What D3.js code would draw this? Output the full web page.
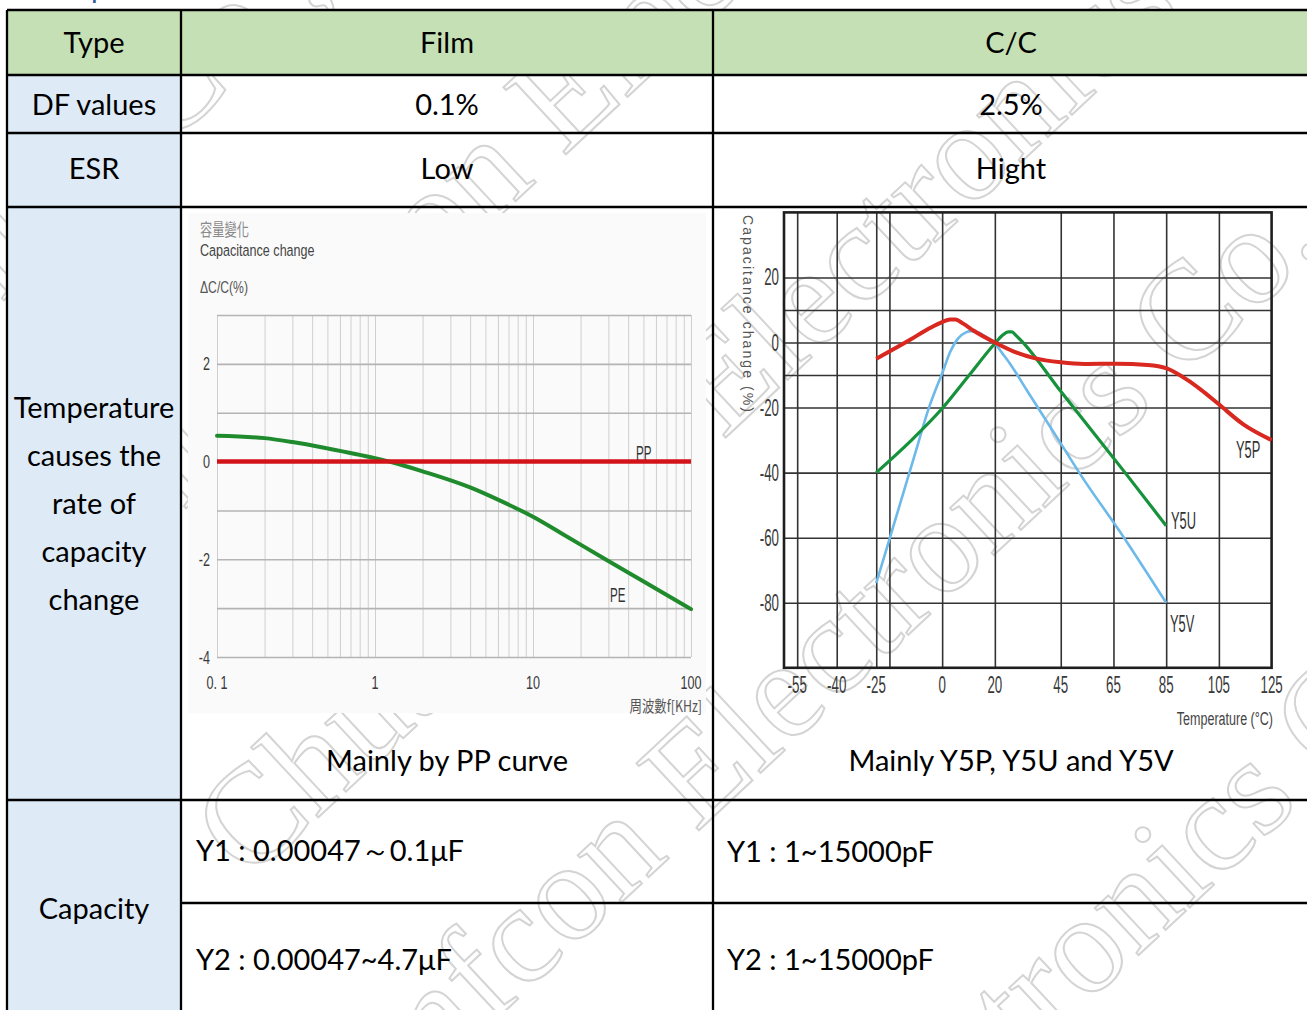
<!DOCTYPE html>
<html>
<head>
<meta charset="utf-8">
<script src="https://cdn.jsdelivr.net/npm/d3@7"></script>
<style>
  html, body { margin: 0; padding: 0; background: #fff; }
  svg { display: block; }
</style>
</head>
<body>
<svg id="page" width="1307" height="1010"></svg>
<script>
// ---------- table text ----------
const headerCells   = ["Type", "Film", "C/C"];
const dfValues      = ["DF values", "0.1%", "2.5%"];
const esrValues     = ["ESR", "Low", "Hight"];
const tempRowLabel  = ["Temperature", "causes the", "rate of", "capacity", "change"];
const chartCaptions = ["Mainly by PP curve", "Mainly Y5P, Y5U and Y5V"];
const capacityLabel = "Capacity";
const filmCapacity  = ["Y1 : 0.00047～0.1μF", "Y2 : 0.00047~4.7μF"];
const ccCapacity    = ["Y1 : 1~15000pF", "Y2 : 1~15000pF"];
const headingText   = "Comparison";
const watermarkText = "Chuanfcon Electronics Co., Ltd.";

// ---------- film capacitor: capacitance change vs frequency ----------
const filmFreqTicks  = [0.1, 1, 10, 100];
const filmFreqLabels = ["0. 1", "1", "10", "100"];
const filmChangeTicks = [2, 0, -2, -4];
const ppFreq   = [0.1, 100];
const ppChange = [0, 0];
const peFreq   = [0.1, 0.2, 0.3, 0.5, 1, 1.3, 2, 4, 6, 10, 15, 28, 48, 100];
const peChange = [0.53, 0.48, 0.40, 0.27, 0.07, -0.02, -0.20, -0.53, -0.78, -1.13, -1.46, -1.98, -2.42, -3.02];

// ---------- ceramic capacitor: capacitance change vs temperature ----------
const tempTicks = [-55, -40, -25, 0, 20, 45, 65, 85, 105, 125];
const tempGrid  = [-55, -40, -25, -20, 0, 20, 45, 65, 85, 105];
const capTicks  = [20, 0, -20, -40, -60, -80];
const capGrid   = [20, 10, 0, -10, -20, -40, -60, -80];

const y5pTemp = [-25, -12, -5, 0, 3, 5, 8, 12, 20, 27, 35, 45, 54, 66, 78, 85, 93, 98, 105, 114, 125];
const y5pCap  = [-5, 0.9, 4.3, 6.3, 7.1, 7.1, 5.8, 3.6, 0, -2.7, -4.8, -6.1, -6.6, -6.5, -6.9, -7.9, -11.5, -14.4, -19, -25, -30];
const y5uTemp = [-25, -12, 0, 10, 20, 23, 25, 26.5, 28, 30, 45, 69.4, 85];
const y5uCap  = [-40, -30.3, -20.3, -10.3, -0.3, 2.3, 3.3, 3.3, 2.2, 0.6, -15, -40, -56.3];
const y5vTemp = [-25, -20, -15, -10, -5, -2, 0, 3, 6, 9, 11, 14, 17, 20, 23, 26, 32, 45, 52, 69, 85];
const y5vCap  = [-74, -60.5, -47, -33.5, -20, -13.5, -9.5, -3, 1.2, 3.1, 3.5, 3.0, 1.5, -0.3, -3.5, -6.8, -14.5, -31, -40, -60, -80];
const ccSeries = [
  { name: "Y5V", temp: y5vTemp, cap: y5vCap, color: "#6cb9ea", width: 2.6 },
  { name: "Y5U", temp: y5uTemp, cap: y5uCap, color: "#16913c", width: 3.2 },
  { name: "Y5P", temp: y5pTemp, cap: y5pCap, color: "#d8281f", width: 4 }
];

// ---------- layout ----------
const colX = [7, 181, 713, 1310];
const rowY = [10, 75, 133, 207, 800, 903, 1016];
const bodyFont = "Lato, 'Open Sans', sans-serif";
const narrowFont = "'Liberation Sans', Arial, sans-serif";

const svg = d3.select("#page");
svg.append("rect").attr("width", 1307).attr("height", 1010).attr("fill", "#fff");

// helper: condensed label (horizontally squeezed sans text)
function narrowText(parent, x, y, str, o) {
  const g = parent.append("g")
    .attr("transform", `translate(${x},${y}) scale(${o.sx || 0.7},1)`);
  return g.append("text")
    .attr("text-anchor", o.anchor || "start")
    .attr("font-family", o.family || narrowFont)
    .attr("font-size", o.size)
    .attr("fill", o.fill || "#333")
    .text(str);
}

// ---------- heading above the table ----------
{
  const probe = svg.append("text").attr("font-family", bodyFont).attr("font-size", 29).text("Com");
  const w = probe.node().getComputedTextLength();
  probe.remove();
  svg.append("text").attr("x", 91 - w).attr("y", -2)
    .attr("font-family", bodyFont).attr("font-size", 29).attr("fill", "#2f5c96")
    .text(headingText);
}

// ---------- background watermark ----------
const wmLines = [
  { anchor: "Co.",       x: 165,  y: 150 },
  { anchor: "Electronics", x: 563, y: 157 },
  { anchor: "Chuanfcon", x: 248,  y: 883 },
  { anchor: "Electronics", x: 696, y: 833 },
  { anchor: "onics",     x: 1085, y: 1005 }
];
const wm = svg.append("g").attr("class", "watermark");
wmLines.forEach(l => {
  const g = wm.append("g").attr("transform", `translate(${l.x},${l.y}) rotate(-43)`);
  const t = g.append("text")
    .attr("font-family", "'Liberation Serif', 'DejaVu Serif', serif")
    .attr("font-size", 140)
    .attr("fill", "none").attr("stroke", "#d4d4d4").attr("stroke-width", 2)
    .text(watermarkText);
  const idx = watermarkText.indexOf(l.anchor);
  const off = idx > 0 ? t.node().getSubStringLength(0, idx) : 0;
  t.attr("x", -off);
});

// ---------- cell fills ----------
svg.append("rect").attr("x", colX[0]).attr("y", rowY[0])
  .attr("width", colX[3] - colX[0]).attr("height", rowY[1] - rowY[0]).attr("fill", "#c5e0b4");
svg.append("rect").attr("x", colX[0]).attr("y", rowY[1])
  .attr("width", colX[1] - colX[0]).attr("height", rowY[6] - rowY[1]).attr("fill", "#deebf7");

// ---------- film chart ----------
const film = svg.append("g").attr("class", "film-chart");
film.append("rect").attr("x", 188).attr("y", 213).attr("width", 518).attr("height", 500).attr("fill", "#fafafa");

const filmX = d3.scaleLog().domain([0.1, 100]).range([217, 691]);
const filmY = d3.scaleLinear().domain([-4, 3]).range([657, 315]);

const fGridX = film.append("g").attr("transform", `translate(0,${filmY(-4)})`)
  .call(d3.axisBottom(filmX).tickValues(filmX.ticks()).tickSize(-(filmY(-4) - filmY(3))).tickFormat(""));
fGridX.select(".domain").remove();
fGridX.selectAll("line").attr("stroke", "#cfcfcf").attr("stroke-width", 1);

const fGridY = film.append("g").attr("transform", `translate(${filmX(0.1)},0)`)
  .call(d3.axisLeft(filmY).tickValues(d3.range(-4, 4)).tickSize(-(filmX(100) - filmX(0.1))).tickFormat(""));
fGridY.select(".domain").remove();
fGridY.selectAll("line").attr("stroke", "#b4b4b4").attr("stroke-width", 1.6);

filmChangeTicks.forEach(v => {
  narrowText(film, 210, filmY(v) + 6.5, v, { size: 18, sx: 0.7, anchor: "end", fill: "#3a3a3a" });
});
filmFreqTicks.forEach((v, i) => {
  narrowText(film, filmX(v), 689, filmFreqLabels[i], { size: 18, sx: 0.7, anchor: "middle", fill: "#3a3a3a" });
});
narrowText(film, 200, 236, "容量變化", { size: 17, sx: 0.72, fill: "#8a8a8a", family: "'Noto Sans CJK TC', sans-serif" });
narrowText(film, 200, 256, "Capacitance change", { size: 17, sx: 0.74, fill: "#444" });
narrowText(film, 200, 293, "ΔC/C(%)", { size: 16, sx: 0.76, fill: "#555" });
narrowText(film, 702, 712, "周波數f[KHz]", { size: 15.5, sx: 0.8, anchor: "end", fill: "#555", family: "'Noto Sans CJK TC', sans-serif" });

const filmLine = d3.line().x(d => filmX(d[0])).y(d => filmY(d[1])).curve(d3.curveMonotoneX);
film.append("path").attr("d", filmLine(d3.zip(peFreq, peChange)))
  .attr("fill", "none").attr("stroke", "#1f8b2d").attr("stroke-width", 4).attr("stroke-linecap", "round");
film.append("path").attr("d", filmLine(d3.zip(ppFreq, ppChange)))
  .attr("fill", "none").attr("stroke", "#d3131a").attr("stroke-width", 4.5);
narrowText(film, 636, 460, "PP", { size: 20, sx: 0.58, fill: "#333" });
narrowText(film, 610, 602, "PE", { size: 20, sx: 0.58, fill: "#333" });

// ---------- ceramic chart ----------
const cc = svg.append("g").attr("class", "cc-chart");
const ccX = d3.scaleLinear().domain([-60, 125]).range([784, 1271.6]);
const ccY = d3.scaleLinear().domain([-100, 40]).range([667.8, 212.4]);

const cGridX = cc.append("g").attr("transform", `translate(0,${ccY(-100)})`)
  .call(d3.axisBottom(ccX).tickValues(tempGrid).tickSize(-(ccY(-100) - ccY(40))).tickFormat(""));
cGridX.select(".domain").remove();
cGridX.selectAll("line").attr("stroke", "#333").attr("stroke-width", 1.6);

const cGridY = cc.append("g").attr("transform", `translate(${ccX(-60)},0)`)
  .call(d3.axisLeft(ccY).tickValues(capGrid).tickSize(-(ccX(125) - ccX(-60))).tickFormat(""));
cGridY.select(".domain").remove();
cGridY.selectAll("line").attr("stroke", "#333").attr("stroke-width", 1.6);

cc.append("rect").attr("x", ccX(-60)).attr("y", ccY(40))
  .attr("width", ccX(125) - ccX(-60)).attr("height", ccY(-100) - ccY(40))
  .attr("fill", "none").attr("stroke", "#1e1e1e").attr("stroke-width", 2.6);

capTicks.forEach(v => {
  narrowText(cc, 779, ccY(v) + 8, v, { size: 23, sx: 0.58, anchor: "end", fill: "#3a3a3a" });
});
tempTicks.forEach(v => {
  narrowText(cc, ccX(v), 693, v, { size: 23, sx: 0.58, anchor: "middle", fill: "#3a3a3a" });
});
narrowText(cc, 1273, 725, "Temperature (°C)", { size: 19, sx: 0.66, anchor: "end", fill: "#444" });

cc.append("text")
  .attr("transform", "translate(743,215) rotate(90)")
  .attr("font-family", narrowFont).attr("font-size", 14).attr("fill", "#555")
  .attr("textLength", 197).attr("lengthAdjust", "spacing")
  .text("Capacitance change (%)");

const ccLine = d3.line().x(d => ccX(d[0])).y(d => ccY(d[1])).curve(d3.curveMonotoneX);
ccSeries.forEach(s => {
  cc.append("path").attr("d", ccLine(d3.zip(s.temp, s.cap)))
    .attr("fill", "none").attr("stroke", s.color).attr("stroke-width", s.width)
    .attr("stroke-linejoin", "round");
});
narrowText(cc, 1236, 458, "Y5P", { size: 23, sx: 0.56, fill: "#333" });
narrowText(cc, 1171, 529, "Y5U", { size: 23, sx: 0.56, fill: "#333" });
narrowText(cc, 1170, 632, "Y5V", { size: 23, sx: 0.56, fill: "#333" });

// ---------- cell text ----------
const colCenters = [94, 447, 1011];
const cellText = (x, y, str, anchor) => svg.append("text")
  .attr("x", x).attr("y", y).attr("text-anchor", anchor || "middle")
  .attr("font-family", bodyFont).attr("font-size", 29).attr("fill", "#000").text(str);

headerCells.forEach((s, i) => cellText(colCenters[i], 53, s));
dfValues.forEach((s, i) => cellText(colCenters[i], 115, s));
esrValues.forEach((s, i) => cellText(colCenters[i], 179, s));
tempRowLabel.forEach((s, i) => cellText(colCenters[0], 418 + 48 * i, s));
chartCaptions.forEach((s, i) => cellText(colCenters[i + 1], 771, s));
cellText(colCenters[0], 919, capacityLabel);
filmCapacity.forEach((s, i) => cellText(196, [861, 970][i], s, "start"));
ccCapacity.forEach((s, i) => cellText(727, [862, 970][i], s, "start"));

// ---------- table borders ----------
const borders = svg.append("g").attr("stroke", "#000").attr("stroke-width", 2.3);
[rowY[0], rowY[1], rowY[2], rowY[3], rowY[4]].forEach(y =>
  borders.append("line").attr("x1", colX[0]).attr("x2", colX[3]).attr("y1", y).attr("y2", y));
borders.append("line").attr("x1", colX[1]).attr("x2", colX[3]).attr("y1", rowY[5]).attr("y2", rowY[5]);
[colX[0], colX[1], colX[2]].forEach(x =>
  borders.append("line").attr("x1", x).attr("x2", x).attr("y1", rowY[0]).attr("y2", rowY[6]));
</script>
</body>
</html>
